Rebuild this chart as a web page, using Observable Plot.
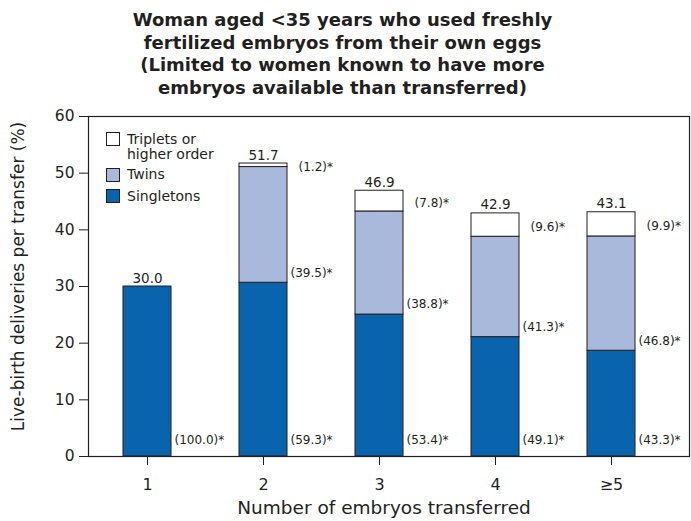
<!DOCTYPE html>
<html><head><meta charset="utf-8">
<script src="https://cdn.jsdelivr.net/npm/d3@7"></script>
<script src="https://cdn.jsdelivr.net/npm/@observablehq/plot@0.6"></script>
<style>
body{margin:0;background:#fff;font-family:"DejaVu Sans",sans-serif;color:#231f20;}
#wrap{position:relative;width:691px;height:521px;overflow:hidden;}
#title{height:105px;box-sizing:border-box;padding-top:9px;padding-right:6px;text-align:center;font-weight:bold;font-size:18px;line-height:22.7px;}
#legend{position:absolute;left:106px;top:132px;font-size:14px;line-height:15px;}
.item{position:absolute;white-space:nowrap;}
.box{position:absolute;left:0;width:14px;height:14px;border:1px solid #231f20;box-sizing:border-box;}
.lab{position:absolute;left:21px;}
</style></head>
<body>
<div id="wrap">
<div id="title"></div>
<div id="chart"></div>
<div id="legend"></div>
</div>
<script>
const titleLines = ["Woman aged <35 years who used freshly","fertilized embryos from their own eggs","(Limited to women known to have more","embryos available than transferred)"];
const categories = ["1","2","3","4","≥5"];
const totals = [30.0, 51.7, 46.9, 42.9, 43.1];
const singletonPct = [100.0, 59.3, 53.4, 49.1, 43.3];
const twinPct = [null, 39.5, 38.8, 41.3, 46.8];
const tripletPct = [null, 1.2, 7.8, 9.6, 9.9];
const types = ["Singletons", "Twins", "Triplets or higher order"];
const typeColors = ["#0a64ad", "#a9b9dc", "#ffffff"];
const yTicks = [0, 10, 20, 30, 40, 50, 60];
const xLabel = "Number of embryos transferred";
const yLabel = "Live-birth deliveries per transfer (%)";

document.getElementById("title").innerHTML = titleLines.map(l => l.replace(/</g,"&lt;")).join("<br>");

const rows = [];
categories.forEach((c, i) => {
  const pcts = [singletonPct[i], twinPct[i], tripletPct[i]];
  let acc = 0;
  pcts.forEach((p, j) => {
    if (p == null) return;
    const v = totals[i] * p / 100;
    rows.push({cat: c, type: types[j], pct: p, y1: acc, y2: acc + v});
    acc += v;
  });
});
const totalRows = categories.map((c, i) => ({cat: c, total: totals[i]}));
const pctText = d => `(${d.pct.toFixed(1)})*`;
const ink = "#231f20";

const chart = Plot.plot({
  width: 691, height: 416,
  marginTop: 11, marginBottom: 65, marginLeft: 88, marginRight: 2,
  style: {fontFamily: "'DejaVu Sans', sans-serif", color: ink, background: "#fff"},
  x: {type: "band", domain: categories, range: [89, 669], paddingInner: 0.586, paddingOuter: 0.293},
  y: {domain: [0, 60]},
  color: {domain: types, range: typeColors},
  marks: [
    Plot.barY(rows, {x: "cat", y1: "y1", y2: "y2", fill: "type", stroke: ink, strokeWidth: 1}),
    Plot.frame({stroke: ink, strokeWidth: 1.2}),
    Plot.axisY({ticks: yTicks, tickSize: 9, tickPadding: 5, fontSize: 15.5, label: null}),
    Plot.axisX({tickSize: 9, tickPadding: 13, fontSize: 16, label: null}),
    Plot.text(totalRows, {x: "cat", y: "total", text: d => d.total.toFixed(1), lineAnchor: "bottom", dy: -4, fontSize: 13.5, fill: ink}),
    Plot.text(rows.filter(d => d.type === types[0]), {x: "cat", y: 0, text: pctText, textAnchor: "start", dx: 27, dy: -16, fontSize: 12, fill: ink}),
    Plot.text(rows.filter(d => d.type === types[1]), {x: "cat", y: "y1", text: pctText, textAnchor: "start", dx: 27, dy: -10, fontSize: 12, fill: ink}),
    Plot.text(rows.filter(d => d.type === types[2]), {x: "cat", y: d => (d.y1 + d.y2) / 2, text: pctText, textAnchor: "start", dx: 35, dy: 2, fontSize: 12, fill: ink}),
    Plot.text([xLabel], {text: d => d, frameAnchor: "bottom", textAnchor: "middle", lineAnchor: "middle", dx: -5, dy: 52, fontSize: 18.5, fill: ink}),
    Plot.text([yLabel], {text: d => d, frameAnchor: "left", rotate: -90, textAnchor: "middle", lineAnchor: "middle", dx: -70, dy: -10, fontSize: 17, fill: ink})
  ]
});
document.getElementById("chart").appendChild(chart);

const legendItems = [
  {type: types[2], lines: ["Triplets or", "higher order"], top: 0, textTop: 0},
  {type: types[1], lines: ["Twins"], top: 36, textTop: 35},
  {type: types[0], lines: ["Singletons"], top: 57, textTop: 57}
];
const leg = document.getElementById("legend");
legendItems.forEach(it => {
  const d = document.createElement("div");
  d.className = "item";
  d.style.top = it.top + "px";
  const b = document.createElement("div");
  b.className = "box";
  b.style.background = typeColors[types.indexOf(it.type)];
  const t = document.createElement("div");
  t.className = "lab";
  t.style.top = (it.textTop - it.top) + "px";
  t.innerHTML = it.lines.join("<br>");
  d.appendChild(b); d.appendChild(t);
  leg.appendChild(d);
});
</script>
</body></html>
